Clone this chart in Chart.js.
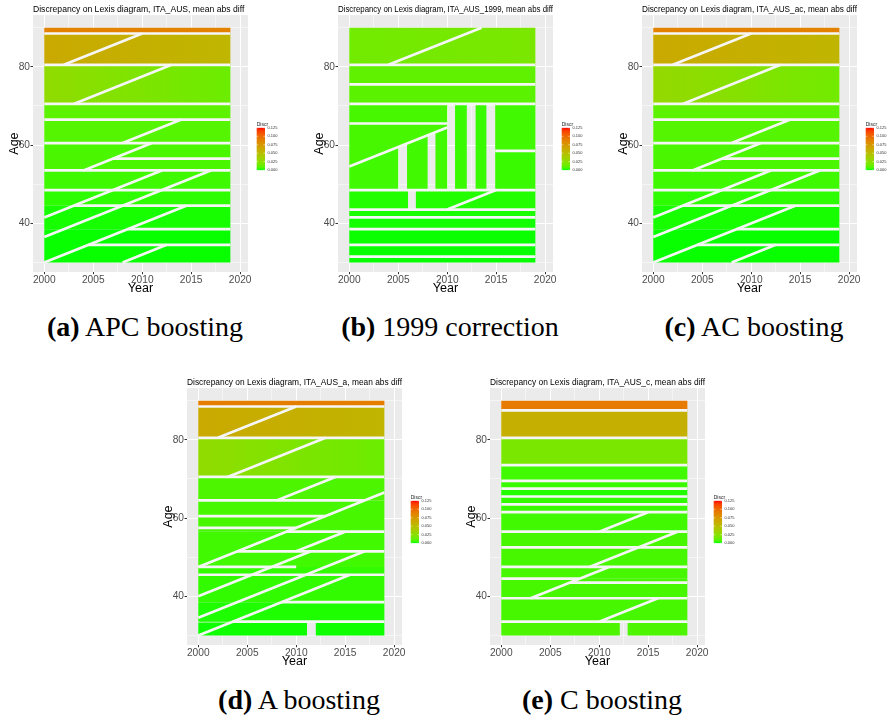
<!DOCTYPE html>
<html>
<head>
<meta charset="utf-8">
<script src="https://cdn.jsdelivr.net/npm/chart.js@4.4.1/dist/chart.umd.min.js"></script>
<style>
  body { margin: 0; width: 890px; height: 720px; background: #fff; position: relative; overflow: hidden; }
  .panel { position: absolute; width: 290px; height: 300px; }
  .cap { position: absolute; width: 300px; text-align: center; font-family: "Liberation Serif", serif; font-size: 28px; line-height: 30px; color: #000; }
</style>
</head>
<body>
<div class="panel" style="left:0px;top:0px"><canvas id="apc"></canvas></div>
<div class="panel" style="left:305px;top:0px"><canvas id="corr"></canvas></div>
<div class="panel" style="left:609px;top:0px"><canvas id="ac"></canvas></div>
<div class="panel" style="left:154px;top:373px"><canvas id="aonly"></canvas></div>
<div class="panel" style="left:457px;top:373px"><canvas id="conly"></canvas></div>

<div class="cap" style="left:-5px;top:312px"><b>(a)</b> APC boosting</div>
<div class="cap" style="left:300px;top:312px"><b>(b)</b> 1999 correction</div>
<div class="cap" style="left:604px;top:312px"><b>(c)</b> AC boosting</div>
<div class="cap" style="left:149px;top:685px"><b>(d)</b> A boosting</div>
<div class="cap" style="left:452px;top:685px"><b>(e)</b> C boosting</div>

<script>
const FONT = '"Liberation Sans", Arial, sans-serif';
const GAP = '#f6f6f6';

// axes
const X_MIN = 1998.85, X_MAX = 2020.8;
const Y_MIN = 27.55, Y_MAX = 93.2;
const xMajor = [2000, 2005, 2010, 2015, 2020];
const xMinor = [2002.5, 2007.5, 2012.5, 2017.5];
const yMajor = [40, 60, 80];
const yMinor = [30, 50, 70, 90];
const legendBreaks = [0, 0.025, 0.05, 0.075, 0.1, 0.125];
const DISCR_MAX = 0.125;

// tiles: [year0, year1, ageLow, ageHigh] or a polygon [[year, age], ...]
// discr: value per tile, or [value at left edge, value at right edge]
// cuts: boundary segments [year0, age0, year1, age1]

// (a) APC boosting
const apcTiles = [
  [2000, 2019, 88.5, 90], [2000, 2019, 80.5, 88.5], [2000, 2019, 70.5, 80.5],
  [2000, 2019, 66.5, 70.5], [2000, 2019, 60.5, 66.5], [2000, 2019, 53.5, 60.5],
  [2000, 2019, 48.5, 53.5], [2000, 2019, 44.5, 48.5], [2000, 2019, 38.5, 44.5],
  [2000, 2019, 30, 38.5]
];
const apcDiscr = [0.088, [0.064, 0.055], [0.028, 0.014], 0.0105, 0.0085, 0.0065, 0.0045, 0.0025, 0.0008, 0.0002];
const apcCuts = [
  [2000, 88.5, 2019, 88.5], [2000, 80.5, 2019, 80.5], [2000, 70.5, 2019, 70.5],
  [2000, 66.5, 2019, 66.5], [2000, 60.5, 2019, 60.5], [2007, 56.5, 2019, 56.5],
  [2000, 53.5, 2019, 53.5], [2000, 48.5, 2019, 48.5], [2003, 44.5, 2019, 44.5],
  [2008.5, 38.5, 2019, 38.5], [2004.5, 34.5, 2019, 34.5],
  [2002, 80.5, 2010, 88.5], [2003, 70.5, 2013, 80.5], [2008, 60.5, 2014, 66.5],
  [2004, 53.5, 2011, 60.5], [2000, 41.5, 2012, 53.5], [2000, 36.5, 2017, 53.5],
  [2000, 30, 2014.5, 44.5], [2008, 30, 2012.5, 34.5]
];

// (b) 1999 correction
const corrTiles = [
  [2000, 2019, 80.5, 90], [2000, 2019, 75.5, 80.5], [2000, 2019, 70.5, 75.5],
  [2000, 2010, 65.5, 70.5],
  [[2000, 54.5], [2010, 64.5], [2010, 65.5], [2000, 65.5]],
  [[2000, 48.5], [2005, 48.5], [2005, 59.5], [2000, 54.5]],
  [[2005.9, 48.5], [2008, 48.5], [2008, 62.5], [2005.9, 60.4]],
  [[2008.8, 48.5], [2010, 48.5], [2010, 64.5], [2008.8, 63.3]],
  [2010.8, 2012, 48.5, 70.5], [2012.9, 2014, 48.5, 70.5],
  [2014.9, 2019, 58.5, 70.5], [2014.9, 2019, 48.5, 58.5],
  [2000, 2006, 43.5, 48.5], [2006.8, 2019, 43.5, 48.5],
  [2000, 2019, 41.5, 43.5], [2000, 2019, 38.5, 41.5], [2000, 2019, 34.5, 38.5],
  [2000, 2019, 31.5, 34.5], [2000, 2019, 30, 31.5]
];
const corrDiscr = [[0.016, 0.019], 0.011, 0.010, 0.006, 0.006, 0.005, 0.005, 0.005,
  0.004, 0.004, 0.005, 0.004, 0.0015, 0.0015, 0.001, 0.0006, 0.0003, 0.0002, 0.0002];
const corrCuts = [
  [2000, 80.5, 2019, 80.5], [2000, 75.5, 2019, 75.5], [2000, 70.5, 2019, 70.5],
  [2000, 65.5, 2010, 65.5], [2014.9, 58.5, 2019, 58.5], [2000, 48.5, 2019, 48.5],
  [2000, 43.5, 2019, 43.5], [2000, 41.5, 2019, 41.5], [2000, 38.5, 2019, 38.5],
  [2000, 34.5, 2019, 34.5], [2000, 31.5, 2019, 31.5],
  [2004, 80.5, 2013.5, 90], [2000, 54.5, 2010, 64.5], [2010, 43.5, 2015, 48.5]
];

// (c) AC boosting
const acTiles = [
  [2000, 2019, 88.5, 90], [2000, 2019, 80.5, 88.5], [2000, 2019, 70.5, 80.5],
  [2000, 2019, 66.5, 70.5], [2000, 2019, 60.5, 66.5], [2000, 2019, 53.5, 60.5],
  [2000, 2019, 48.5, 53.5], [2000, 2019, 44.5, 48.5], [2000, 2019, 38.5, 44.5],
  [2000, 2019, 30, 38.5]
];
const acDiscr = [0.088, [0.064, 0.056], [0.030, 0.016], 0.0105, 0.0085, 0.0065, 0.0045, 0.0025, 0.0008, 0.0002];
const acCuts = [
  [2000, 88.5, 2019, 88.5], [2000, 80.5, 2019, 80.5], [2000, 70.5, 2019, 70.5],
  [2000, 66.5, 2019, 66.5], [2000, 60.5, 2019, 60.5], [2007, 56.5, 2019, 56.5],
  [2000, 53.5, 2019, 53.5], [2000, 48.5, 2019, 48.5], [2003, 44.5, 2019, 44.5],
  [2008.5, 38.5, 2019, 38.5], [2004.5, 34.5, 2019, 34.5],
  [2002, 80.5, 2010, 88.5], [2003, 70.5, 2013, 80.5], [2008, 60.5, 2014, 66.5],
  [2004, 53.5, 2011, 60.5], [2000, 41.5, 2012, 53.5], [2000, 36.5, 2017, 53.5],
  [2000, 30, 2014.5, 44.5], [2008, 30, 2012.5, 34.5]
];

// (d) A boosting
const aTiles = [
  [2000, 2019, 88.5, 90], [2000, 2019, 80.5, 88.5], [2000, 2019, 70.5, 80.5],
  [2000, 2019, 64.5, 70.5], [2000, 2019, 56.5, 64.5], [2000, 2019, 47.5, 56.5],
  [2000, 2019, 38.5, 47.5], [2000, 2019, 33.5, 38.5],
  [2000, 2011.1, 30, 33.3], [2012, 2019, 30, 33.3]
];
const aDiscr = [0.09, [0.064, 0.056], [0.028, 0.014], 0.007, 0.006, 0.005, 0.003, 0.0012, 0.0004, 0.0004];
const aCuts = [
  [2000, 88.5, 2019, 88.5], [2000, 80.5, 2019, 80.5], [2000, 70.5, 2019, 70.5],
  [2000, 64.5, 2017, 64.5], [2000, 60.5, 2013, 60.5], [2000, 57.5, 2010, 57.5],
  [2009, 56.5, 2019, 56.5], [2004, 51.5, 2019, 51.5], [2000, 47.5, 2010, 47.5],
  [2000, 45.5, 2019, 45.5], [2008.5, 38.5, 2019, 38.5], [2003.5, 33.5, 2019, 33.5],
  [2002, 80.5, 2010, 88.5], [2003, 70.5, 2013, 80.5], [2008, 64.5, 2014, 70.5],
  [2000, 47.5, 2019, 66.5], [2010, 51.5, 2015, 56.5],
  [2000, 40, 2011.5, 51.5], [2000, 34.5, 2017, 51.5], [2000, 30, 2015.5, 45.5]
];

// (e) C boosting
const cTiles = [
  [2000, 2019, 87.5, 90], [2000, 2019, 80.5, 87.5], [2000, 2019, 73.5, 80.5],
  [2000, 2019, 69.5, 73.5], [2000, 2019, 67.5, 69.5], [2000, 2019, 65.5, 67.5],
  [2000, 2019, 63.5, 65.5], [2000, 2019, 61.5, 63.5], [2000, 2019, 56.5, 61.5],
  [2000, 2019, 52.5, 56.5], [2000, 2019, 47.5, 52.5], [2000, 2019, 44.5, 47.5],
  [2000, 2019, 39.5, 44.5], [2000, 2019, 33.5, 39.5],
  [2000, 2012.1, 30, 33.2], [2012.9, 2019, 30, 33.2]
];
const cDiscr = [0.092, 0.06, 0.019, 0.005, 0.004, 0.0015, 0.003, 0.004, 0.005,
  0.006, 0.006, 0.006, 0.006, 0.006, 0.007, 0.007];
const cCuts = [
  [2000, 87.5, 2019, 87.5], [2000, 80.5, 2019, 80.5], [2000, 73.5, 2019, 73.5],
  [2000, 69.5, 2019, 69.5], [2000, 67.5, 2019, 67.5], [2000, 65.5, 2019, 65.5],
  [2000, 63.5, 2019, 63.5], [2000, 61.5, 2019, 61.5], [2000, 56.5, 2019, 56.5],
  [2000, 52.5, 2019, 52.5], [2000, 47.5, 2019, 47.5], [2000, 44.5, 2008, 44.5],
  [2007, 43.5, 2019, 43.5], [2000, 39.5, 2019, 39.5], [2000, 33.5, 2019, 33.5],
  [2010, 56.5, 2015, 61.5], [2009, 47.5, 2018, 56.5], [2003, 39.5, 2011, 47.5],
  [2010, 33.5, 2016, 39.5]
];

const panels = [
  { id: 'apc', name: 'ITA_AUS', tiles: apcTiles, discr: apcDiscr, cuts: apcCuts },
  { id: 'corr', name: 'ITA_AUS_1999', tiles: corrTiles, discr: corrDiscr, cuts: corrCuts },
  { id: 'ac', name: 'ITA_AUS_ac', tiles: acTiles, discr: acDiscr, cuts: acCuts },
  { id: 'aonly', name: 'ITA_AUS_a', tiles: aTiles, discr: aDiscr, cuts: aCuts },
  { id: 'conly', name: 'ITA_AUS_c', tiles: cTiles, discr: cDiscr, cuts: cCuts }
];

// green -> red gradient interpolated in CIELAB
function toLab([r, g, b]) {
  const lin = c => { c /= 255; return c <= 0.04045 ? c / 12.92 : Math.pow((c + 0.055) / 1.055, 2.4); };
  const R = lin(r), G = lin(g), B = lin(b);
  const X = (0.4124 * R + 0.3576 * G + 0.1805 * B) / 0.95047;
  const Y = 0.2126 * R + 0.7152 * G + 0.0722 * B;
  const Z = (0.0193 * R + 0.1192 * G + 0.9505 * B) / 1.08883;
  const f = t => t > 0.008856 ? Math.cbrt(t) : t / 0.128418 + 4 / 29;
  return [116 * f(Y) - 16, 500 * (f(X) - f(Y)), 200 * (f(Y) - f(Z))];
}
function fromLab([L, a, b]) {
  const fy = (L + 16) / 116, fx = fy + a / 500, fz = fy - b / 200;
  const inv = t => t > 6 / 29 ? t * t * t : 0.128418 * (t - 4 / 29);
  const X = inv(fx) * 0.95047, Y = inv(fy), Z = inv(fz) * 1.08883;
  const gam = c => {
    c = c <= 0.0031308 ? 12.92 * c : 1.055 * Math.pow(c, 1 / 2.4) - 0.055;
    return Math.round(Math.min(1, Math.max(0, c)) * 255);
  };
  return 'rgb(' + gam(3.2406 * X - 1.5372 * Y - 0.4986 * Z) + ',' +
    gam(-0.9689 * X + 1.8758 * Y + 0.0415 * Z) + ',' +
    gam(0.0557 * X - 0.2040 * Y + 1.0570 * Z) + ')';
}
const LOW = toLab([0, 255, 0]), HIGH = toLab([255, 0, 0]);
function discrColor(v) {
  const t = Math.min(1, Math.max(0, v / DISCR_MAX));
  return fromLab(LOW.map((c, i) => c + (HIGH[i] - c) * t));
}

function tilePoints(t) {
  if (typeof t[0] === 'number') {
    const [x0, x1, lo, hi] = t;
    return [[x0, lo], [x1, lo], [x1, hi], [x0, hi], [x0, lo]];
  }
  return t.concat([t[0]]);
}

function tileFill(pts, d) {
  const [vl, vr] = Array.isArray(d) ? d : [d, d];
  if (vl === vr) return discrColor(vl);
  const xs = pts.map(p => p[0]);
  const x0 = Math.min(...xs), x1 = Math.max(...xs);
  return ctx => {
    const chart = ctx.chart;
    if (!chart.chartArea) return discrColor((vl + vr) / 2);
    const sx = chart.scales.x;
    const g = chart.ctx.createLinearGradient(sx.getPixelForValue(x0), 0, sx.getPixelForValue(x1), 0);
    g.addColorStop(0, discrColor(vl));
    g.addColorStop(1, discrColor(vr));
    return g;
  };
}

function buildDatasets(p) {
  const sets = [];
  p.tiles.forEach((t, i) => {
    const pts = tilePoints(t);
    sets.push({
      data: pts.map(([x, y]) => ({ x, y })),
      fill: 'shape',
      backgroundColor: tileFill(pts, p.discr[i]),
      borderWidth: 0,
      pointRadius: 0,
      order: 2
    });
  });
  p.cuts.forEach(([x0, y0, x1, y1]) => {
    sets.push({
      data: [{ x: x0, y: y0 }, { x: x1, y: y1 }],
      borderColor: GAP,
      borderWidth: 2.7,
      borderCapStyle: 'butt',
      pointRadius: 0,
      fill: false,
      order: 1
    });
  });
  return sets;
}

const panelBg = {
  id: 'panelBg',
  beforeDraw(chart) {
    const { ctx, chartArea: a } = chart;
    ctx.save();
    ctx.fillStyle = '#ebebeb';
    ctx.fillRect(a.left, a.top, a.width, a.height);
    ctx.restore();
  }
};

const colorBar = {
  id: 'colorBar',
  afterDraw(chart) {
    const { ctx, chartArea: a } = chart;
    const x = a.right + 8.7, top = a.top + 112.7, w = 8.3, h = 42.3;
    ctx.save();
    ctx.fillStyle = '#222';
    ctx.font = '5px ' + FONT;
    ctx.textBaseline = 'bottom';
    ctx.fillText('Discr', x, top - 0.8);
    const g = ctx.createLinearGradient(0, top + h, 0, top);
    for (let i = 0; i <= 20; i++) g.addColorStop(i / 20, discrColor(DISCR_MAX * i / 20));
    ctx.fillStyle = g;
    ctx.fillRect(x, top, w, h);
    ctx.font = '4px ' + FONT;
    ctx.textBaseline = 'middle';
    ctx.strokeStyle = '#fff';
    ctx.lineWidth = 0.5;
    legendBreaks.forEach(b => {
      const y = top + h - (b / DISCR_MAX) * h;
      ctx.beginPath();
      ctx.moveTo(x, y); ctx.lineTo(x + 1.6, y);
      ctx.moveTo(x + w - 1.6, y); ctx.lineTo(x + w, y);
      ctx.stroke();
      ctx.fillStyle = '#333';
      ctx.fillText(b.toFixed(3), x + w + 2.5, y);
    });
    ctx.restore();
  }
};

const xTicks = xMajor.concat(xMinor).sort((a, b) => a - b);
const yTicks = yMajor.concat(yMinor).sort((a, b) => a - b);

panels.forEach(p => {
  new Chart(document.getElementById(p.id), {
    type: 'line',
    data: { datasets: buildDatasets(p) },
    options: {
      responsive: true,
      maintainAspectRatio: false,
      animation: false,
      events: [],
      layout: { padding: { left: 0, right: 42, top: 0, bottom: 0 } },
      plugins: {
        legend: { display: false },
        tooltip: { enabled: false },
        title: {
          display: true,
          text: 'Discrepancy on Lexis diagram, ' + p.name + ', mean abs diff',
          align: 'start',
          fullSize: false,
          color: '#000',
          font: { family: FONT, size: 8.6, weight: 'normal', lineHeight: 1.2 },
          padding: { top: 4.8, bottom: 0 }
        }
      },
      scales: {
        x: {
          type: 'linear',
          min: X_MIN,
          max: X_MAX,
          afterBuildTicks: s => { s.ticks = xTicks.map(v => ({ value: v })); },
          afterFit: s => { s.height = 28; },
          border: { display: false },
          grid: {
            color: '#ffffff',
            lineWidth: c => xMajor.includes(c.tick.value) ? 1 : 0.5,
            tickLength: 2.2,
            tickColor: c => xMajor.includes(c.tick.value) ? '#333' : 'rgba(0,0,0,0)'
          },
          ticks: {
            color: '#4d4d4d',
            font: { family: FONT, size: 10.2 },
            padding: -0.6,
            maxRotation: 0,
            autoSkip: false,
            callback: v => xMajor.includes(v) ? String(v) : ''
          },
          title: {
            display: true, text: 'Year', color: '#000',
            font: { family: FONT, size: 12.5 },
            padding: { top: 0, bottom: 3.5 }
          }
        },
        y: {
          type: 'linear',
          min: Y_MIN,
          max: Y_MAX,
          afterBuildTicks: s => { s.ticks = yTicks.map(v => ({ value: v })); },
          afterFit: s => { s.width = 33; },
          border: { display: false },
          grid: {
            color: '#ffffff',
            lineWidth: c => yMajor.includes(c.tick.value) ? 1 : 0.5,
            tickLength: 2.5,
            tickColor: c => yMajor.includes(c.tick.value) ? '#333' : 'rgba(0,0,0,0)'
          },
          ticks: {
            color: '#4d4d4d',
            font: { family: FONT, size: 10.2 },
            padding: 0.5,
            autoSkip: false,
            callback: v => yMajor.includes(v) ? String(v) : ''
          },
          title: {
            display: true, text: 'Age', color: '#000',
            font: { family: FONT, size: 12.5 },
            padding: { top: 7, bottom: 0 }
          }
        }
      }
    },
    plugins: [panelBg, colorBar]
  });
});
</script>
</body>
</html>
